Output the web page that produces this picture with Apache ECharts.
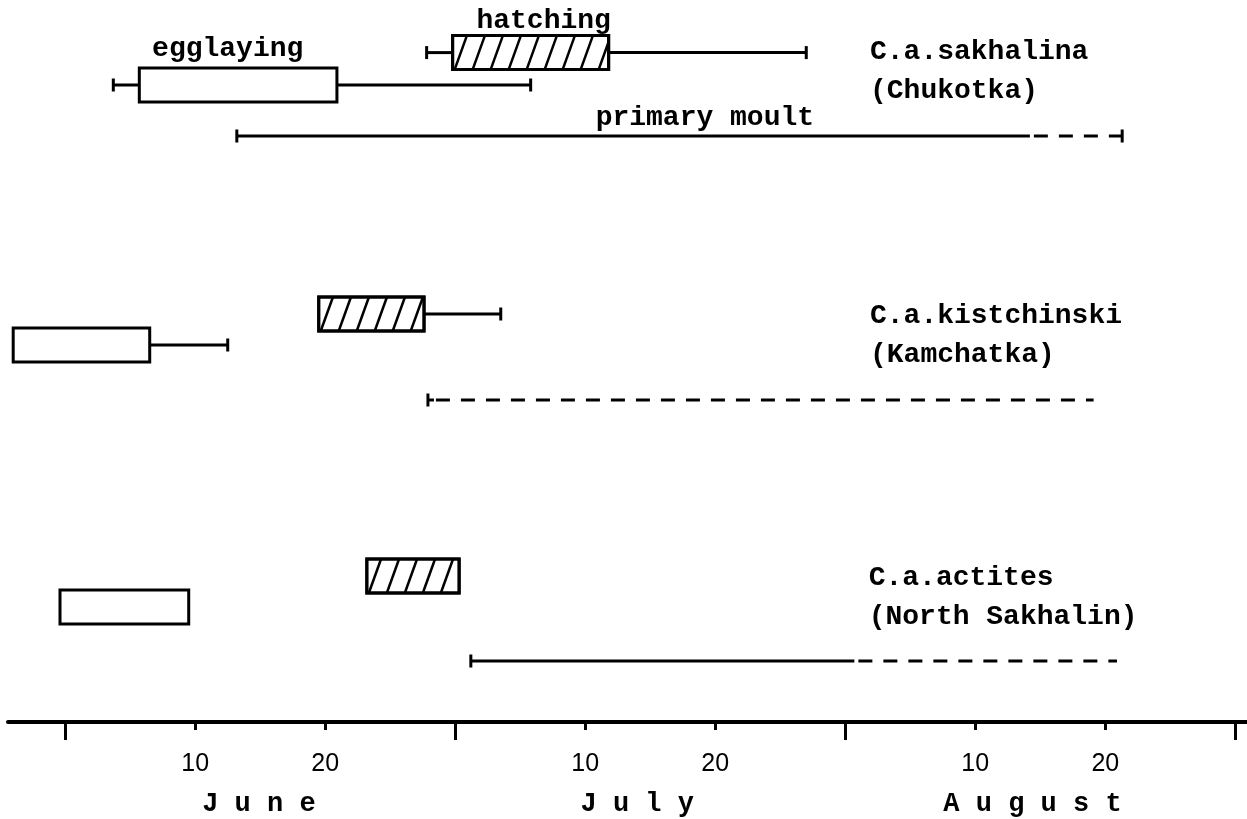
<!DOCTYPE html>
<html>
<head>
<meta charset="utf-8">
<script src="https://cdn.jsdelivr.net/npm/echarts@6/dist/echarts.min.js"></script>
<style>
html,body{margin:0;padding:0;background:#fff;}
#chart{width:1247px;height:819px;}
</style>
</head>
<body>
<div id="chart"></div>
<script>
// x values: days counted from 1 June, each month drawn as 30 days
const species = ['C.a.sakhalina', 'C.a.kistchinski', 'C.a.actites'];
const regions = ['(Chukotka)', '(Kamchatka)', '(North Sakhalin)'];
const eggBox = [[5.7, 20.9], [-4.0, 6.5], [-0.4, 9.5]];
const eggWhisker = [[3.7, 35.8], [null, 12.5], [null, null]];
const hatchBox = [[29.8, 41.8], [19.5, 27.6], [23.2, 30.3]];
const hatchWhisker = [[27.8, 57.0], [null, 33.5], [null, null]];
const moultStart = [13.2, 27.9, 31.2];
const moultSolidEnd = [74.2, 27.9, 60.7];
const moultEnd = [81.3, 79.1, 80.9];
const moultEndCap = [1, 0, 0];
const phaseNames = ['egglaying', 'hatching', 'primary moult'];
const phaseNamePos = [12.5, 36.8, 49.2];

const monthTicks = [0, 30, 60, 90];
const dayTicks = [10, 20, 40, 50, 70, 80];
const dayTickLabels = ['10', '20', '10', '20', '10', '20'];
const monthLabelPos = [14.9, 44, 74.4];
const monthNames = ['J u n e', 'J u l y', 'A u g u s t'];

// layout (vertical lanes, in y-axis units)
const laneHatch = [2.63, 15.7, 28.8];
const laneEgg = [4.25, 17.25, 30.35];
const laneMoult = [6.8, 20.0, 33.05];
const laneSpecies = [2.6, 15.8, 28.9];
const laneRegion = [4.55, 17.75, 30.85];
const lanePhase = [2.45, 1.05, 5.9];
const speciesX = [61.9, 61.9, 61.8];
const BOX_H = 1.7;

const boxData = [];
const whiskerData = [];
for (let i = 0; i < 3; i++) {
  boxData.push([eggBox[i][0], eggBox[i][1], laneEgg[i], 0]);
  boxData.push([hatchBox[i][0], hatchBox[i][1], laneHatch[i], 1]);
  if (eggWhisker[i][0] != null) whiskerData.push([eggWhisker[i][0], eggBox[i][0], laneEgg[i]]);
  if (eggWhisker[i][1] != null) whiskerData.push([eggWhisker[i][1], eggBox[i][1], laneEgg[i]]);
  if (hatchWhisker[i][0] != null) whiskerData.push([hatchWhisker[i][0], hatchBox[i][0], laneHatch[i]]);
  if (hatchWhisker[i][1] != null) whiskerData.push([hatchWhisker[i][1], hatchBox[i][1], laneHatch[i]]);
}
const moultData = moultStart.map((s, i) => [s, moultSolidEnd[i], moultEnd[i], laneMoult[i], moultEndCap[i]]);
const textData = [];
for (let i = 0; i < 3; i++) {
  textData.push([speciesX[i], laneSpecies[i], species[i], 'left']);
  textData.push([speciesX[i], laneRegion[i], regions[i], 'left']);
  textData.push([phaseNamePos[i], lanePhase[i], phaseNames[i], 'center']);
}

const MONO = 'bold 28px "Liberation Mono", "Courier New", monospace';
const CAP = 13;
const gridRect = {left: 8, right: 0, top: 0, height: 722};

const chart = echarts.init(document.getElementById('chart'), null, {renderer: 'canvas'});
chart.setOption({
  backgroundColor: '#fff',
  animation: false,
  grid: [Object.assign({}, gridRect), Object.assign({}, gridRect)],
  xAxis: [{
    gridIndex: 0, type: 'value', min: -4.4, max: 90.9, position: 'bottom',
    axisLine: {show: true, onZero: false, lineStyle: {color: '#000', width: 4}},
    axisTick: {show: true, customValues: monthTicks, length: 18, lineStyle: {color: '#000', width: 3}},
    axisLabel: {
      show: true, customValues: monthLabelPos, margin: 69,
      formatter: v => monthNames[monthLabelPos.indexOf(v)] || '',
      color: '#000', fontFamily: '"Liberation Mono", "Courier New", monospace', fontWeight: 'bold', fontSize: 27
    },
    splitLine: {show: false}
  }, {
    gridIndex: 1, type: 'value', min: -4.4, max: 90.9, position: 'bottom',
    axisLine: {show: false, onZero: false},
    axisTick: {show: true, customValues: dayTicks, length: 8, lineStyle: {color: '#000', width: 3}},
    axisLabel: {
      show: true, customValues: dayTicks, margin: 30,
      formatter: v => dayTickLabels[dayTicks.indexOf(v)] || '',
      color: '#000', fontFamily: '"Liberation Sans", Arial, sans-serif', fontSize: 25
    },
    splitLine: {show: false}
  }],
  yAxis: [
    {gridIndex: 0, type: 'value', min: 0, max: 36.1, inverse: true, show: false},
    {gridIndex: 1, type: 'value', min: 0, max: 36.1, inverse: true, show: false}
  ],
  series: [{
    type: 'custom', name: 'whiskers', xAxisIndex: 0, yAxisIndex: 0, data: whiskerData,
    renderItem: function (params, api) {
      const a = api.coord([api.value(0), api.value(2)]);
      const b = api.coord([api.value(1), api.value(2)]);
      return {type: 'group', children: [
        {type: 'line', shape: {x1: a[0], y1: a[1], x2: b[0], y2: b[1]}, style: {stroke: '#000', lineWidth: 3}},
        {type: 'line', shape: {x1: a[0], y1: a[1] - CAP / 2, x2: a[0], y2: a[1] + CAP / 2}, style: {stroke: '#000', lineWidth: 3}}
      ]};
    }
  }, {
    type: 'custom', name: 'boxes', xAxisIndex: 0, yAxisIndex: 0, data: boxData,
    renderItem: function (params, api) {
      const a = api.coord([api.value(0), api.value(2)]);
      const b = api.coord([api.value(1), api.value(2)]);
      const h = api.size([0, BOX_H])[1];
      const x0 = a[0], x1 = b[0], y0 = a[1] - h / 2, y1 = a[1] + h / 2;
      const children = [{type: 'rect', shape: {x: x0, y: y0, width: x1 - x0, height: h}, style: {fill: '#fff', stroke: '#000', lineWidth: 3}}];
      if (api.value(3) === 1) {
        const s = h * 0.36, step = 18;
        for (let xb = x0 + 2; xb < x1 - 1; xb += step) {
          let xt = xb + s, yt = y0;
          if (xt > x1) { yt = y1 - (x1 - xb) / s * h; xt = x1; }
          children.push({type: 'line', shape: {x1: xb, y1: y1, x2: xt, y2: yt}, style: {stroke: '#000', lineWidth: 2.5}});
        }
        children.push({type: 'rect', shape: {x: x0, y: y0, width: x1 - x0, height: h}, style: {fill: 'none', stroke: '#000', lineWidth: 3}});
      }
      return {type: 'group', children: children};
    }
  }, {
    type: 'custom', name: 'moult', xAxisIndex: 0, yAxisIndex: 0, data: moultData,
    renderItem: function (params, api) {
      const lane = api.value(3);
      const a = api.coord([api.value(0), lane]);
      const m = api.coord([api.value(1), lane]);
      const e = api.coord([api.value(2), lane]);
      const children = [];
      if (m[0] > a[0]) children.push({type: 'line', shape: {x1: a[0], y1: a[1], x2: m[0], y2: m[1]}, style: {stroke: '#000', lineWidth: 3}});
      children.push({type: 'line', shape: {x1: m[0] + (m[0] > a[0] ? 4 : 8), y1: m[1], x2: e[0], y2: e[1]}, style: {stroke: '#000', lineWidth: 3, lineDash: [14, 11]}});
      children.push({type: 'line', shape: {x1: a[0], y1: a[1] - CAP / 2, x2: a[0], y2: a[1] + CAP / 2}, style: {stroke: '#000', lineWidth: 3}});
      if (m[0] <= a[0]) children.push({type: 'line', shape: {x1: a[0], y1: a[1], x2: a[0] + 6, y2: a[1]}, style: {stroke: '#000', lineWidth: 3}});
      if (api.value(4) === 1) children.push({type: 'line', shape: {x1: e[0], y1: e[1] - CAP / 2, x2: e[0], y2: e[1] + CAP / 2}, style: {stroke: '#000', lineWidth: 3}});
      return {type: 'group', children: children};
    }
  }, {
    type: 'custom', name: 'texts', xAxisIndex: 0, yAxisIndex: 0, data: textData,
    renderItem: function (params, api) {
      const item = textData[params.dataIndex];
      const p = api.coord([item[0], item[1]]);
      return {type: 'text', x: p[0], y: p[1], style: {text: item[2], font: MONO, fill: '#000', align: item[3], verticalAlign: 'middle'}};
    }
  }]
});
</script>
</body>
</html>
